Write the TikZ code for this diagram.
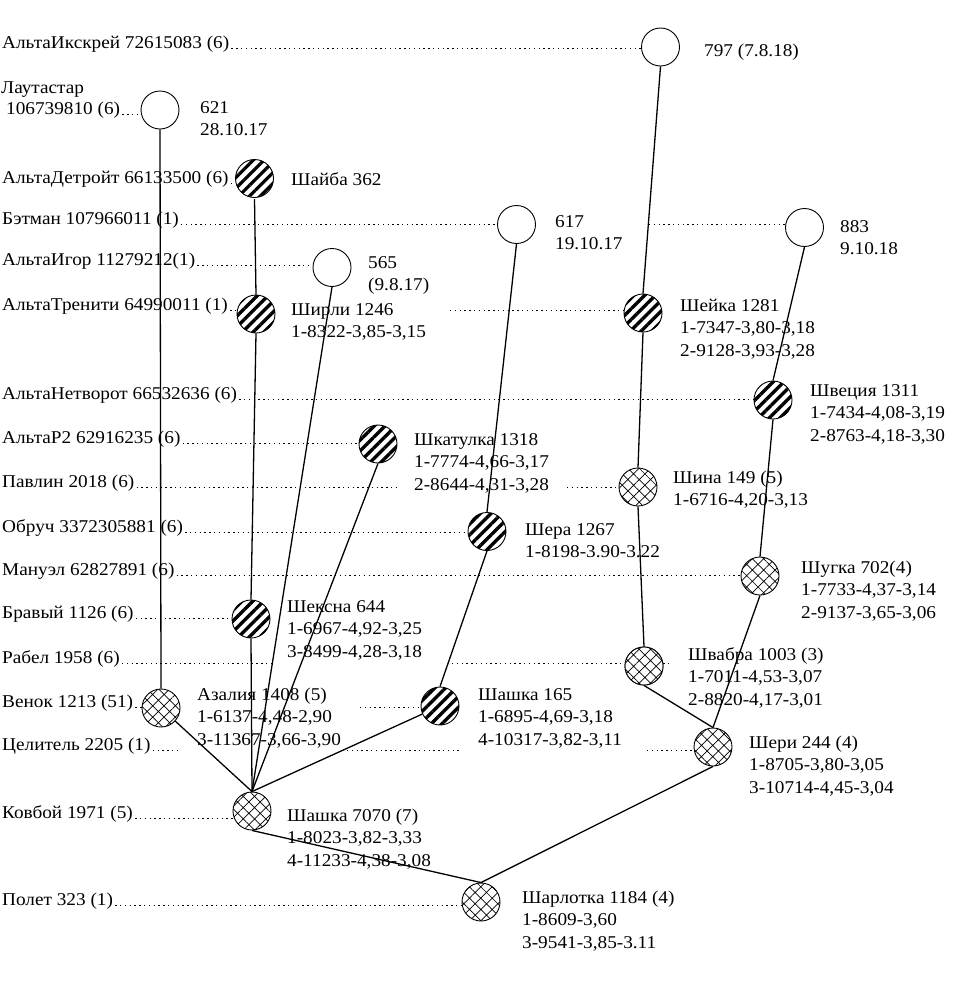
\documentclass[tikz,border=0pt]{standalone}
\usepackage{fontspec}
\setmainfont[FakeStretch=1.07]{Liberation Serif}
\usetikzlibrary{patterns.meta}
\newcommand\mlines[1]{\begin{tabular}[t]{@{}l@{}}#1\end{tabular}}
\begin{document}
\begin{tikzpicture}[x=1pt,y=-1pt,
  lbl/.style={anchor=base west, inner sep=0pt, font=\fontsize{18}{22.5}\selectfont},
  opencirc/.style={circle, draw, minimum size=38pt, inner sep=0pt, fill=white, line width=0.9pt},
  stripecirc/.style={circle, draw, minimum size=38pt, inner sep=0pt, line width=0.9pt,
     preaction={fill=white}, pattern={Lines[angle=45,distance=7.6pt,line width=3.3pt]}},
  crosscirc/.style={circle, draw, minimum size=38pt, inner sep=0pt, line width=0.9pt,
     preaction={fill=white}, pattern={Hatch[angle=45,distance=8pt,line width=0.7pt]}},
  link/.style={line width=1.3pt},
  dotline/.style={line width=1pt, dash pattern=on 1.4pt off 3.4pt}
]
\useasboundingbox (0,0) rectangle (960,983);
\fill[white] (0,0) rectangle (960,983);

% ---------- left labels ----------
\node[lbl] (L1) at (2,48) {АльтаИкскрей 72615083 (6)};
\node[lbl] (L2a) at (1,93) {Лаутастар};
\node[lbl] (L2b) at (6,114) {106739810 (6)};
\node[lbl] (L3) at (2,183) {АльтаДетройт 66133500 (6)};
\node[lbl] (L4) at (2,224) {Бэтман 107966011 (1)};
\node[lbl] (L5) at (2,265) {АльтаИгор 11279212(1)};
\node[lbl] (L6) at (2,310) {АльтаТренити 64990011 (1)};
\node[lbl] (L7) at (2,399) {АльтаНетворот 66532636 (6)};
\node[lbl] (L8) at (2,443) {АльтаР2 62916235 (6)};
\node[lbl] (L9) at (2,487) {Павлин 2018 (6)};
\node[lbl] (L10) at (2,532) {Обруч 3372305881 (6)};
\node[lbl] (L11) at (2,575) {Мануэл 62827891 (6)};
\node[lbl] (L12) at (2,618) {Бравый 1126 (6)};
\node[lbl] (L13) at (2,663) {Рабел 1958 (6)};
\node[lbl] (L14) at (2,707) {Венок 1213 (51)};
\node[lbl] (L15) at (2,750) {Целитель 2205 (1)};
\node[lbl] (L16) at (2,818) {Ковбой 1971 (5)};
\node[lbl] (L17) at (2,905) {Полет 323 (1)};

% ---------- circles ----------
\node[opencirc] (n797) at (660.5,47) {};
\node[opencirc] (n621) at (160,110) {};
\node[stripecirc] (shayba) at (254.5,178.5) {};
\node[opencirc] (n617) at (516.5,224.5) {};
\node[opencirc] (n883) at (804.5,227.5) {};
\node[opencirc] (n565) at (332,267.5) {};
\node[stripecirc] (shirli) at (256,314) {};
\node[stripecirc] (sheika) at (643,313) {};
\node[stripecirc] (shvec) at (773,400) {};
\node[stripecirc] (shkat) at (378,444) {};
\node[crosscirc] (shina) at (638,487) {};
\node[stripecirc] (shera) at (487,531.5) {};
\node[crosscirc] (shugka) at (760,576) {};
\node[stripecirc] (sheksna) at (251,619) {};
\node[crosscirc] (shvabra) at (644,666) {};
\node[crosscirc] (azal) at (161,708) {};
\node[stripecirc] (sh165) at (440,706) {};
\node[crosscirc] (sheri) at (713,747) {};
\node[crosscirc] (sh7070) at (252,811) {};
\node[crosscirc] (sharl) at (481,902) {};

% ---------- free ends of dotted segments ----------
\coordinate (d4a) at (649,224);
\coordinate (d6a) at (450,310);
\coordinate (d9a) at (397,487);
\coordinate (d9b) at (567,487);
\coordinate (d13a) at (272,663);
\coordinate (d13b) at (452,663);
\coordinate (d13c) at (672,663);
\coordinate (d14a) at (360,707);
\coordinate (d15a) at (180,750);
\coordinate (d15b) at (347,750);
\coordinate (d15c) at (462,750);
\coordinate (d15d) at (647,750);

% ---------- dotted leaders ----------
\draw[dotline] ([xshift=2pt]L1.base east) -- (L1.base east -| n797.west);
\draw[dotline] ([xshift=2pt]L2b.base east) -- (L2b.base east -| n621.west);
\draw[dotline] ([xshift=2pt]L3.base east) -- (L3.base east -| shayba.west);
\draw[dotline] ([xshift=2pt]L4.base east) -- (L4.base east -| n617.west);
\draw[dotline] (d4a) -- (d4a -| n883.west);
\draw[dotline] ([xshift=2pt]L5.base east) -- (L5.base east -| n565.west);
\draw[dotline] ([xshift=2pt]L6.base east) -- (L6.base east -| shirli.west);
\draw[dotline] (d6a) -- (d6a -| sheika.west);
\draw[dotline] ([xshift=2pt]L7.base east) -- (L7.base east -| shvec.west);
\draw[dotline] ([xshift=2pt]L8.base east) -- (L8.base east -| shkat.west);
\draw[dotline] ([xshift=2pt]L9.base east) -- (d9a);
\draw[dotline] (d9b) -- (d9b -| shina.west);
\draw[dotline] ([xshift=2pt]L10.base east) -- (L10.base east -| shera.west);
\draw[dotline] ([xshift=2pt]L11.base east) -- (L11.base east -| shugka.west);
\draw[dotline] ([xshift=2pt]L12.base east) -- (L12.base east -| sheksna.west);
\draw[dotline] ([xshift=2pt]L13.base east) -- (d13a);
\draw[dotline] (d13b) -- (d13c);
\draw[dotline] ([xshift=2pt]L14.base east) -- (L14.base east -| azal.west);
\draw[dotline] (d14a) -- (d14a -| sh165.west);
\draw[dotline] ([xshift=2pt]L15.base east) -- (d15a);
\draw[dotline] (d15b) -- (d15c);
\draw[dotline] (d15d) -- (d15d -| sheri.west);
\draw[dotline] ([xshift=2pt]L16.base east) -- (L16.base east -| sh7070.west);
\draw[dotline] ([xshift=2pt]L17.base east) -- (L17.base east -| sharl.west);

% redraw Shvabra over its leader
\node[crosscirc] at (shvabra) {};

% ---------- solid links ----------
\draw[link] (n621.south) -- (azal.north);
\draw[link] (azal) -- (sh7070.north);
\draw[link] (shayba.south) -- (shirli.north);
\draw[link] (shirli.south) -- (sheksna.north);
\draw[link] (sheksna.south) -- (sh7070.north);
\draw[link] (n565.south) -- (sh7070.north);
\draw[link] (shkat.south) -- (sh7070.north);
\draw[link] (sh165) -- (sh7070.north);
\draw[link] (n617.south) -- (shera.north);
\draw[link] (shera.south) -- (sh165.north);
\draw[link] (n797.south) -- (sheika.north);
\draw[link] (sheika.south) -- (shina.north);
\draw[link] (shina.south) -- (shvabra.north);
\draw[link] (shvabra.south) -- (sheri.north);
\draw[link] (n883.south) -- (shvec.north);
\draw[link] (shvec.south) -- (shugka.north);
\draw[link] (shugka.south) -- (sheri.north);
\draw[link] (sheri.south) -- (sharl.north);
\draw[link] (sh7070.south) -- (sharl.north);

% ---------- node labels ----------
\node[lbl] (t797) at (704,56) {797 (7.8.18)};
\node[lbl] (t621) at (200,113) {\mlines{621\\28.10.17}};
\node[lbl] (t617) at (555,227) {\mlines{617\\19.10.17}};
\node[lbl] (t883) at (840,232) {\mlines{883\\9.10.18}};
\node[lbl] (t565) at (368,268) {\mlines{565\\(9.8.17)}};
\node[lbl] (tshayba) at (291,185) {Шайба 362};
\node[lbl] (tshirli) at (291,315) {\mlines{Ширли 1246\\1-8322-3,85-3,15}};
\node[lbl] (tsheika) at (680,311) {\mlines{Шейка 1281\\1-7347-3,80-3,18\\2-9128-3,93-3,28}};
\node[lbl] (tshvec) at (810,396) {\mlines{Швеция 1311\\1-7434-4,08-3,19\\2-8763-4,18-3,30}};
\node[lbl] (tshkat) at (414,445) {\mlines{Шкатулка 1318\\1-7774-4,66-3,17\\2-8644-4,31-3,28}};
\node[lbl] (tshina) at (673,483) {\mlines{Шина 149 (5)\\1-6716-4,20-3,13}};
\node[lbl] (tshera) at (525,535) {\mlines{Шера 1267\\1-8198-3.90-3.22}};
\node[lbl] (tshugka) at (801,573) {\mlines{Шугка 702(4)\\1-7733-4,37-3,14\\2-9137-3,65-3,06}};
\node[lbl] (tsheksna) at (287,612) {\mlines{Шексна 644\\1-6967-4,92-3,25\\3-8499-4,28-3,18}};
\node[lbl] (tshvabra) at (688,660) {\mlines{Швабра 1003 (3)\\1-7011-4,53-3,07\\2-8820-4,17-3,01}};
\node[lbl] (tazal) at (197,700) {\mlines{Азалия 1408 (5)\\1-6137-4,48-2,90\\3-11367-3,66-3,90}};
\node[lbl] (tsh165) at (478,700) {\mlines{Шашка 165\\1-6895-4,69-3,18\\4-10317-3,82-3,11}};
\node[lbl] (tsheri) at (749,748) {\mlines{Шери 244 (4)\\1-8705-3,80-3,05\\3-10714-4,45-3,04}};
\node[lbl] (tsh7070) at (287,821) {\mlines{Шашка 7070 (7)\\1-8023-3,82-3,33\\4-11233-4,38-3,08}};
\node[lbl] (tsharl) at (522,903) {\mlines{Шарлотка 1184 (4)\\1-8609-3,60\\3-9541-3,85-3.11}};
\end{tikzpicture}
\end{document}
